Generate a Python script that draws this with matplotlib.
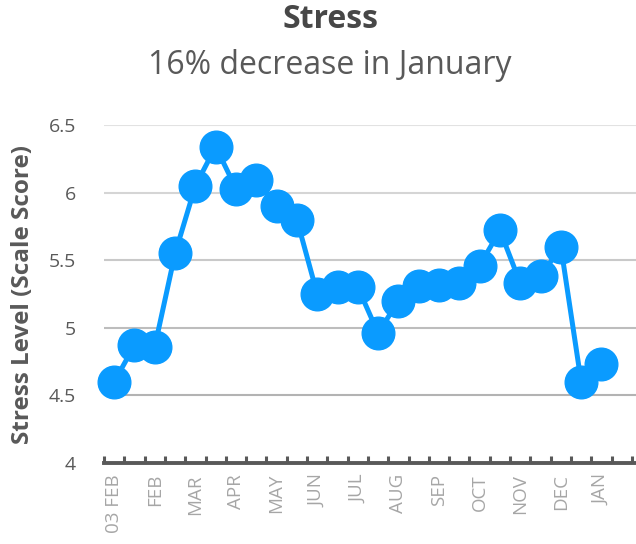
import numpy as np
import matplotlib.pyplot as plt

# biweekly stress scores
stress = [4.60, 4.87, 4.86, 5.55, 6.05, 6.34, 6.03, 6.09, 5.90, 5.80,
          5.25, 5.30, 5.30, 4.96, 5.20, 5.31, 5.32, 5.33, 5.46, 5.72,
          5.33, 5.38, 5.60, 4.60, 4.73]
month_labels = ["03 FEB", "FEB", "MAR", "APR", "MAY", "JUN", "JUL",
                "AUG", "SEP", "OCT", "NOV", "DEC", "JAN"]
y_ticks = [4, 4.5, 5, 5.5, 6, 6.5]
y_tick_labels = ["4", "4.5", "5", "5.5", "6", "6.5"]

plt.rcParams['font.family'] = ['Open Sans', 'DejaVu Sans']

fig = plt.figure(figsize=(6.36, 5.44), dpi=100)
ax = fig.add_axes([104/636, 81/544, 1 - 104/636, 338/544])

x = np.arange(len(stress))
ax.plot(x, stress, color="#0a9bff", lw=3.6, marker="o", ms=23.5,
        zorder=3, clip_on=False)

ax.set_xlim(-0.5, 25.7)
ax.set_ylim(4, 6.5)

# horizontal gridlines, a bit darker toward the bottom
grid_cols = ["#b3b3b3", "#bdbdbd", "#c9c9c9", "#d5d5d5", "#e2e2e2"]
for yv, c in zip(y_ticks[1:], grid_cols):
    ax.axhline(yv, color=c, lw=1.5, zorder=1)

ax.set_yticks(y_ticks)
ax.set_yticklabels(y_tick_labels)
ax.tick_params(axis="y", length=0, pad=20, labelsize=14, labelcolor="#595959")

# category boundary ticks along the bottom
ax.set_xticks(np.arange(-0.5, 26, 1.0), minor=True)
ax.set_xticks(x[::2])
ax.set_xticklabels(month_labels, rotation=90)
ax.tick_params(axis="x", which="major", length=0, pad=8, labelsize=13.5,
               labelcolor="#a6a6a6")
ax.tick_params(axis="x", which="minor", direction="in", length=5, width=2.2,
               color="#595959")

for s in ["top", "right", "left"]:
    ax.spines[s].set_visible(False)
ax.spines["bottom"].set_color("#595959")
ax.spines["bottom"].set_linewidth(2.8)

ax.set_ylabel("Stress Level (Scale Score)", fontsize=17.5, fontweight="bold",
              color="#595959", labelpad=10)

fig.text(330/636, 1 - 20/544, "Stress", ha="center", va="center",
         fontsize=23, fontweight="bold", color="#474747")
fig.text(330/636, 1 - 66/544, "16% decrease in January", ha="center",
         va="center", fontsize=23, color="#595959")

fig.savefig("out.png", dpi=100)
